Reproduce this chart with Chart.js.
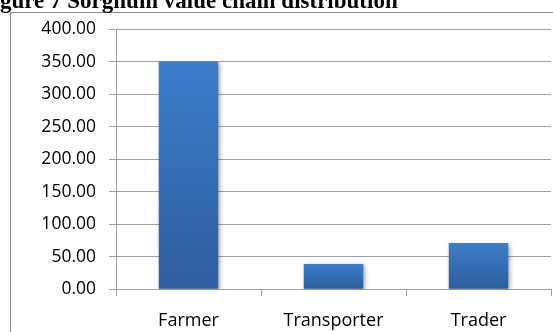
<!DOCTYPE html>
<html>
<head>
<meta charset="utf-8">
<script src="https://cdn.jsdelivr.net/npm/chart.js@4"></script>
<style>
  html, body { margin: 0; padding: 0; background: #fff; }
  #wrap { position: relative; width: 553px; height: 332px; }
</style>
</head>
<body>
<div id="wrap"><canvas id="c" width="553" height="332"></canvas></div>
<script>
// Sorghum value chain: share by actor
const categories = ['Farmer', 'Transporter', 'Trader'];
const values = [350, 39, 71];
const yMin = 0;
const yMax = 400;
const yStep = 50;
const caption = 'Figure 7 Sorghum value chain distribution';

const gridColor = '#a0a0a0';

// Caption above the frame plus the outer frame of the chart box
const framePlugin = {
  id: 'frame',
  beforeDraw(chart) {
    const ctx = chart.ctx;
    ctx.save();
    ctx.fillStyle = '#fff';
    ctx.fillRect(0, 0, chart.width, chart.height);
    ctx.strokeStyle = '#8c8c8c';
    ctx.lineWidth = 1;
    ctx.strokeRect(10.5, 12.5, 700, 500);
    ctx.font = 'bold 23px "Liberation Serif", "Times New Roman", serif';
    ctx.fillStyle = '#000';
    ctx.textBaseline = 'alphabetic';
    const lead = ctx.measureText('Fi').width;
    ctx.fillText(caption, -lead, 7.5);
    ctx.restore();
  }
};

// Soft drop shadow under the bars
const shadowPlugin = {
  id: 'barShadow',
  beforeDatasetsDraw(chart) {
    const ctx = chart.ctx;
    ctx.save();
    ctx.shadowColor = 'rgba(0,0,0,0.35)';
    ctx.shadowBlur = 4;
    ctx.shadowOffsetX = 1.5;
    ctx.shadowOffsetY = 1.5;
  },
  afterDatasetsDraw(chart) {
    chart.ctx.restore();
  }
};

function barGradient(context) {
  const chart = context.chart;
  const y = chart.scales.y;
  const fallback = '#3570b8';
  if (!y || context.dataIndex === undefined || !chart.chartArea) return fallback;
  const top = y.getPixelForValue(context.raw);
  const bottom = y.getPixelForValue(0);
  if (!isFinite(top) || !isFinite(bottom) || top === bottom) return fallback;
  const g = chart.ctx.createLinearGradient(0, top, 0, bottom);
  g.addColorStop(0, '#3b7dca');
  g.addColorStop(1, '#2e5d9c');
  return g;
}

new Chart(document.getElementById('c'), {
  type: 'bar',
  data: {
    labels: categories,
    datasets: [{
      data: values,
      backgroundColor: barGradient,
      borderWidth: 0,
      barPercentage: 0.41,
      categoryPercentage: 1.0
    }]
  },
  options: {
    responsive: false,
    animation: false,
    devicePixelRatio: 1,
    layout: { padding: { top: 29, right: 2, left: 0, bottom: 0 } },
    plugins: {
      legend: { display: false },
      tooltip: { enabled: false }
    },
    scales: {
      x: {
        offset: true,
        grid: {
          offset: true,
          drawOnChartArea: false,
          drawTicks: true,
          tickLength: 7,
          color: gridColor
        },
        border: { display: true, color: gridColor },
        ticks: {
          color: '#000',
          padding: 14,
          font: { family: '"Open Sans", sans-serif', size: 18 }
        },
        afterFit(scale) { scale.height = 42.7; }
      },
      y: {
        min: yMin,
        max: yMax,
        grid: {
          color: gridColor,
          tickLength: 7
        },
        border: { display: true, color: gridColor },
        ticks: {
          stepSize: yStep,
          color: '#000',
          padding: 13,
          font: { family: '"Open Sans", sans-serif', size: 17.5 },
          callback: (v) => Number(v).toFixed(2)
        },
        afterFit(scale) { scale.width = 116; }
      }
    }
  },
  plugins: [framePlugin, shadowPlugin]
});
</script>
</body>
</html>
